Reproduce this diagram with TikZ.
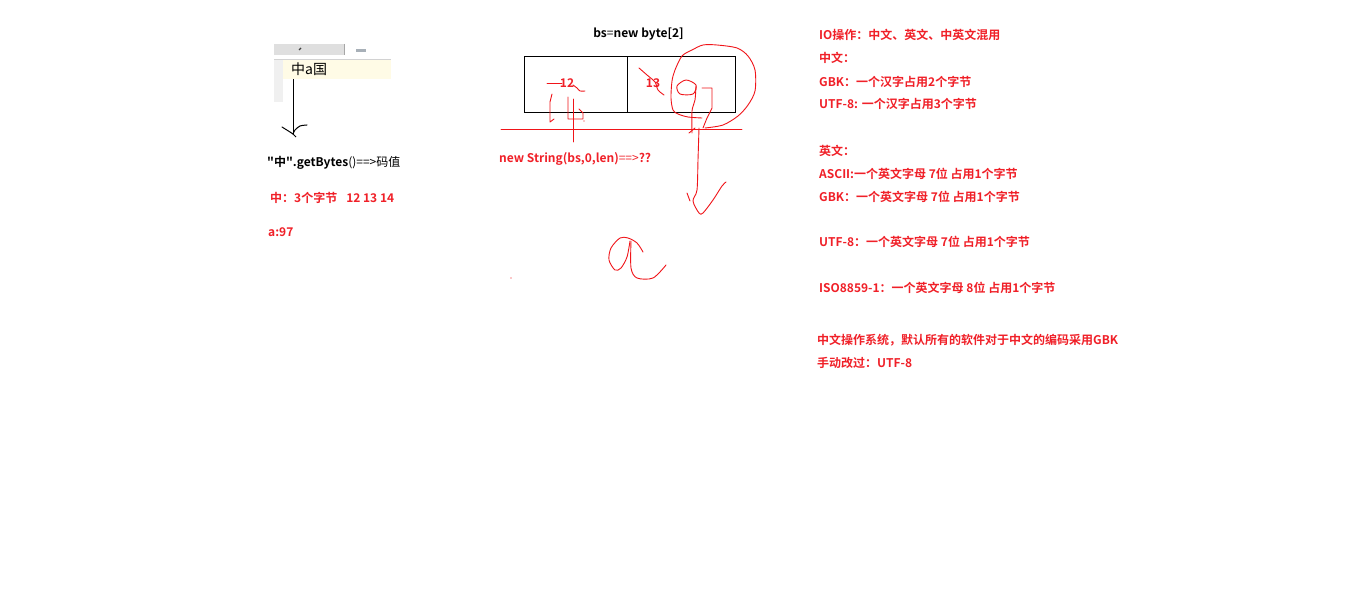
\documentclass[tikz,border=0pt]{standalone}
\usepackage{fontspec}
\setmainfont{Noto Sans CJK SC}[BoldFont={Noto Sans CJK SC Bold}]
\newfontfamily\qfont{Noto Sans CJK SC}[BoldFont={Noto Sans CJK SC Bold}]
\definecolor{tred}{RGB}{240,32,40}
\definecolor{ink}{RGB}{240,20,25}
\definecolor{paper}{RGB}{255,251,230}
\definecolor{dashgray}{RGB}{168,176,184}
\begin{document}
\begin{tikzpicture}[x=1pt,y=-1pt,
  txt/.style={anchor=west,inner sep=0pt,font=\fontsize{12}{14}\selectfont\bfseries},
  rtxt/.style={txt,text=tred},
  pen/.style={draw=ink,line width=0.9pt,line cap=round,line join=round},
  cell/.style={draw=black,line width=0.9pt,inner sep=0pt,anchor=north west,minimum height=56pt}]
\useasboundingbox (0,0) rectangle (1360,604);
\fill[white] (0,0) rectangle (1360,604);

% screenshot fragment
\fill[gray!25] (274,44) rectangle (344,55);
\draw[gray!70,line width=1pt] (344,44) -- (344,55);
\draw[black!75,line width=1.2pt] (299,50) -- (301,48);
\fill[dashgray] (356,49) rectangle (366,52);
\fill[paper] (283,59) rectangle (391,79);
\draw[gray!35,line width=0.8pt] (274,59) -- (391,59);
\fill[gray!12] (274,60) rectangle (283,102);
\node[anchor=west,inner sep=0pt,font=\fontsize{14}{16}\selectfont] (src) at (291,69) {中a国};

% arrow
\coordinate (a1) at (293,79);
\coordinate (a2) at (293,134);
\draw[black,line width=1pt] (a1) -- (a2);
\draw[black,line width=1pt,line cap=round] (282,127) -- (290,132) -- (a2);
\draw[black,line width=1pt,line cap=round] plot[smooth] coordinates {(307,125) (300,126) (295,130) (a2)};
\draw[black,line width=1pt] (a2) -- (296,137);

% left texts
\node[txt] (gb) at (267,163) {{\qfont "}中{\qfont "}.getBytes\textmd{()==>码值}};
\node[rtxt] (zh) at (270,198) {中：3个字节\hspace{9pt}12 13 14};
\node[rtxt] (a97) at (268,232) {a:97};

% byte array
\node[txt,anchor=center] (bs) at (638.5,34) {bs\textmd{=}new byte[2]};
\node[cell,minimum width=103pt] (c1) at (524,56) {};
\node[cell,minimum width=108pt] (c2) at (627,56) {};
\node[rtxt,anchor=center] (n12) at (567,83) {12};
\node[rtxt,anchor=center] (n13) at (653,83) {13};
\draw[pen] (501,129) -- (742,129);

% scribbles near 12
\draw[pen] (547,83) -- (562,83);
\draw[pen] plot[smooth] coordinates {(573,85) (577,88) (580,91) (585,91)};
\draw[pen] (552,94) -- (550,102) -- (550,122) -- (554,119);
\draw[pen] (568,97) -- (568,119) -- (583,119) -- (583,113) -- (579,109);
\draw[pen] (573,99) -- (573,142);
\fill[ink] (584,121) circle (0.6);

% scribble near 13
\draw[pen] plot[smooth] coordinates {(639,68) (647,75) (655,82) (658,90) (664,95)};

% big loop
\draw[pen] plot[smooth] coordinates {(702,118) (688,117) (678,114) (673,110) (671,98) (672,81) (675,70) (682,56) (692,50) (703,45) (717,45) (737,48) (748,56) (755,70) (755,91) (748,105) (738,116) (723,125) (705,128)};
% inner 9
\draw[pen] plot[smooth cycle] coordinates {(696,85) (686,80) (677,86) (680,94) (693,94)};
\draw[pen] plot[smooth] coordinates {(696,86) (695,100) (692,111) (692,133)};
\draw[pen] (689,133) -- (695,128);
\draw[pen] (702,88) -- (712,88) -- (712,108) -- (707,118) -- (703,128);
% long down stroke with hook
\draw[pen] plot[smooth] coordinates {(699,128) (698,160) (697,190) (693,201) (699,213) (703,213) (713,200) (722,186) (726,182)};
\draw[pen] (687,193) -- (690,201);

% new String
\node[rtxt] (ns) at (499,159) {new String(bs,0,len)\textmd{==>}??};

% a scribble
\draw[pen] plot[smooth] coordinates {(643,252) (637,243) (628,238) (620,238) (611,248) (609,260) (615,270) (621,268) (627,257) (630,241)};
\draw[pen] plot[smooth] coordinates {(631,241) (631,268) (637,278) (653,278) (666,265)};
\fill[ink] (511,278) circle (0.7);

% right column
\node[rtxt] (r1) at (819,35) {IO操作：中文、英文、中英文混用};
\node[rtxt] (r2) at (819,58) {中文：};
\node[rtxt] (r3) at (819,82) {GBK：一个汉字占用2个字节};
\node[rtxt] (r4) at (819,104) {UTF-8: 一个汉字占用3个字节};
\node[rtxt] (r5) at (819,151) {英文：};
\node[rtxt] (r6) at (819,174) {ASCII:一个英文字母 7位 占用1个字节};
\node[rtxt] (r7) at (819,197) {GBK：一个英文字母 7位 占用1个字节};
\node[rtxt] (r8) at (819,242) {UTF-8：一个英文字母 7位 占用1个字节};
\node[rtxt] (r9) at (819,288) {ISO8859-1：一个英文字母 8位 占用1个字节};
\node[rtxt] (r10) at (817,340) {中文操作系统，默认所有的软件对于中文的编码采用GBK};
\node[rtxt] (r11) at (817,363) {手动改过：UTF-8};
\end{tikzpicture}
\end{document}
